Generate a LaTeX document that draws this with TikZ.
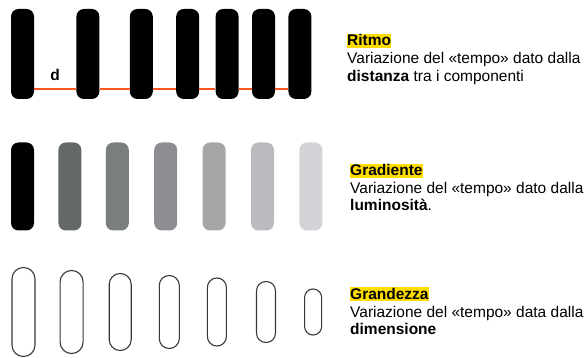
\documentclass[tikz,border=0pt]{standalone}
\usepackage{fontspec}
\setmainfont{Liberation Sans}
\usetikzlibrary{positioning}

\definecolor{dline}{RGB}{255,85,30}
\definecolor{hlyellow}{RGB}{255,221,0}
\definecolor{pillgray}{RGB}{55,55,55}
\definecolor{grad2}{RGB}{99,104,104}
\definecolor{grad3}{RGB}{122,126,126}
\definecolor{grad4}{RGB}{142,142,146}
\definecolor{grad5}{RGB}{166,166,166}
\definecolor{grad6}{RGB}{187,187,191}
\definecolor{grad7}{RGB}{212,212,216}

\begin{document}
\begin{tikzpicture}[x=1pt, y=-1pt,
	bar/.style={fill=#1, rounded corners=7.5pt, minimum width=23pt, minimum height=88pt, inner sep=0pt},
	bar/.default=black,
	pill/.style n args={3}{draw=pillgray, line width=1.1pt, minimum width=#1pt, minimum height=#2pt, rounded corners=#3pt, inner sep=0pt},
	title/.style={font=\fontsize{15.5}{17.75}\selectfont\bfseries, fill=hlyellow, inner xsep=0pt, inner ysep=0pt, text height=12pt, text depth=2pt, anchor=base west},
	desc/.style={font=\fontsize{15.5}{17.75}\selectfont, align=left, inner sep=0pt, anchor=base west}]
	\useasboundingbox (0,0) rectangle (587,358);

	% ritmo
	\node[bar, minimum height=90pt] (r1) at (22.5,54) {};
	\node[bar, minimum height=90pt, right=42pt of r1] (r2) {};
	\node[bar, minimum height=90pt, right=30pt of r2] (r3) {};
	\node[bar, minimum height=90pt, right=23pt of r3] (r4) {};
	\node[bar, minimum height=90pt, right=16pt of r4] (r5) {};
	\node[bar, minimum height=90pt, right=13pt of r5] (r6) {};
	\node[bar, minimum height=90pt, right=13pt of r6] (r7) {};
	\coordinate (dy) at (0,89);
	\draw[dline, line width=2pt] (r1.east |- dy) -- node[above=7pt, inner sep=0pt, black, font=\fontsize{15.5}{16}\selectfont\bfseries] {d} (r2.west |- dy);
	\foreach \a/\b in {2/3, 3/4, 4/5, 5/6, 6/7}
		\draw[dline, line width=2pt] (r\a.east |- dy) -- (r\b.west |- dy);

	% gradiente
	\node[bar] (g1) at (22.5,186.5) {};
	\node[bar=grad2, right=24pt of g1] (g2) {};
	\node[bar=grad3, right=24pt of g2] (g3) {};
	\node[bar=grad4, right=25pt of g3] (g4) {};
	\node[bar=grad5, right=25pt of g4] (g5) {};
	\node[bar=grad6, right=25pt of g5] (g6) {};
	\node[bar=grad7, right=25pt of g6] (g7) {};

	% grandezza
	\node[pill={23}{89}{11.4}] (s1) at (23.5,312) {};
	\node[pill={23}{83}{11.4}, right=24pt of s1] (s2) {};
	\node[pill={22}{77}{10.9}, right=25pt of s2] (s3) {};
	\node[pill={20}{73}{9.9}, right=27pt of s3] (s4) {};
	\node[pill={19}{68}{9.4}, right=27pt of s4] (s5) {};
	\node[pill={19}{61}{9.4}, right=29pt of s5] (s6) {};
	\node[pill={17}{46}{8.4}, right=28pt of s6] (s7) {};

	% testi (base = last line)
	\node[title] (t1) at (347,46) {Ritmo};
	\node[desc, yshift=-35.5pt] (d1) at (t1.base west) {Variazione del «tempo» dato dalla\\\textbf{distanza} tra i componenti};
	\node[title] (t2) at (350,176) {Gradiente};
	\node[desc, yshift=-35pt] (d2) at (t2.base west) {Variazione del «tempo» dato dalla\\\textbf{luminosità}.};
	\node[title] (t3) at (350,299.5) {Grandezza};
	\node[desc, yshift=-35.5pt] (d3) at (t3.base west) {Variazione del «tempo» data dalla\\\textbf{dimensione}};
\end{tikzpicture}
\end{document}
